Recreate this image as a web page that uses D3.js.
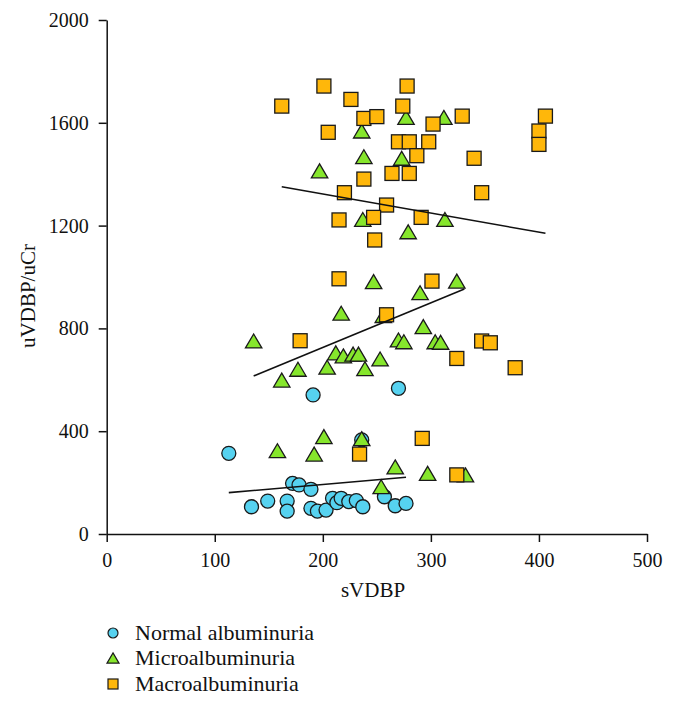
<!DOCTYPE html>
<html>
<head>
<meta charset="utf-8">
<script src="https://cdn.jsdelivr.net/npm/d3@7"></script>
<style>
  html, body { margin: 0; padding: 0; background: #fff; }
  svg { display: block; }
  text { font-family: "Liberation Serif", "Times New Roman", serif; fill: #111; }
</style>
</head>
<body>
<svg id="chart" width="676" height="704"></svg>
<script>
// ---------- data (sVDBP, uVDBP/uCr) ----------
const normalX = [113, 134, 149, 167, 167, 172, 178, 189, 189, 195, 203, 209, 213, 217, 224, 231, 237, 236, 257, 267, 277, 191, 270];
const normalY = [314, 106, 128, 128, 89, 197, 191, 174, 100, 89, 93, 139, 122, 139, 126, 130, 106, 366, 145, 110, 119, 541, 567];

const microX = [236, 238, 197, 237, 247, 277, 312, 273, 313, 279, 324, 290,
                217, 136, 212, 219, 228, 233, 253, 177, 204, 239, 162, 270, 275, 293, 304, 309, 256,
                201, 236, 158, 192, 267, 254, 297, 332];
const microY = [1568, 1468, 1413, 1224, 982, 1621, 1621, 1462, 1224, 1176, 984, 939,
                859, 751, 705, 693, 700, 700, 681, 641, 649, 643, 599, 755, 748, 807, 748, 746, 850,
                379, 371, 324, 311, 261, 184, 236, 230];

const macroX = [201, 226, 162, 238, 250, 205, 264, 238, 220, 259, 247, 215, 248, 215,
                278, 274, 302, 329, 406, 400, 400, 270, 280, 298, 287, 340, 280, 347, 291, 301,
                259, 179, 234, 347, 355, 324, 378, 292, 324];
const macroY = [1743, 1691, 1665, 1617, 1624, 1563, 1403, 1381, 1328, 1280, 1232, 1222, 1144, 993,
                1743, 1665, 1595, 1626, 1626, 1568, 1516, 1526, 1526, 1526, 1472, 1462, 1403, 1328, 1232, 984,
                853, 752, 311, 751, 744, 683, 647, 372, 230];

// regression line end points: [x1, y1, x2, y2]
const fitNormal = [113, 161, 277, 221];
const fitMicro  = [136, 615, 331, 953];
const fitMacro  = [162, 1351, 406, 1170];

const xTicks = [0, 100, 200, 300, 400, 500];
const yTicks = [0, 400, 800, 1200, 1600, 2000];
const seriesNames = ["Normal albuminuria", "Microalbuminuria", "Macroalbuminuria"];
const xTitle = "sVDBP";
const yTitle = "uVDBP/uCr";

// ---------- drawing ----------
const svg = d3.select("#chart");
const x = d3.scaleLinear().domain([0, 500]).range([106.7, 647]);
const y = d3.scaleLinear().domain([0, 2000]).range([534, 20]);

const colors = { circle: "#56d2f0", tri: "#86e62c", sq: "#ffb70a" };
const strokeCol = "#1a1a1a";
const fmt = d3.format("d");

function triPath(s) { // bbox-centred triangle, width 2s
  const h = s * 1.7;
  return `M0,${-h/2}L${s},${h/2}L${-s},${h/2}Z`;
}

// axes
const yAxis = d3.axisLeft(y).tickValues(yTicks).tickFormat(fmt).tickSize(8).tickSizeOuter(0).tickPadding(10);
const xAxis = d3.axisBottom(x).tickValues(xTicks).tickFormat(fmt).tickSize(8).tickSizeOuter(0).tickPadding(11);

const gy = svg.append("g").attr("transform", `translate(${x(0)},0)`).call(yAxis);
const gx = svg.append("g").attr("transform", `translate(0,${y(0)})`).call(xAxis);
[gx, gy].forEach(g => {
  g.attr("font-family", "Liberation Serif, serif").attr("font-size", 20);
  g.selectAll("path, line").attr("stroke", "#111").attr("stroke-width", 1.5);
  g.selectAll("text").attr("fill", "#111").style("font-family", "Liberation Serif, serif");
});

// points: circles, then triangles, then squares
const gPts = svg.append("g");
gPts.selectAll("circle.n").data(normalX.map((v, i) => [v, normalY[i]]))
  .join("circle").attr("class", "n")
  .attr("cx", d => x(d[0])).attr("cy", d => y(d[1])).attr("r", 7)
  .attr("fill", colors.circle).attr("stroke", strokeCol).attr("stroke-width", 1.3);

gPts.selectAll("path.m").data(microX.map((v, i) => [v, microY[i]]))
  .join("path").attr("class", "m")
  .attr("d", triPath(8.2))
  .attr("transform", d => `translate(${x(d[0])},${y(d[1])})`)
  .attr("fill", colors.tri).attr("stroke", strokeCol).attr("stroke-width", 1.3).attr("stroke-linejoin", "miter");

gPts.selectAll("rect.M").data(macroX.map((v, i) => [v, macroY[i]]))
  .join("rect").attr("class", "M")
  .attr("x", d => x(d[0]) - 7).attr("y", d => y(d[1]) - 7)
  .attr("width", 14).attr("height", 14)
  .attr("fill", colors.sq).attr("stroke", strokeCol).attr("stroke-width", 1.3);

// regression lines
[fitNormal, fitMicro, fitMacro].forEach(f => {
  svg.append("line")
    .attr("x1", x(f[0])).attr("y1", y(f[1]))
    .attr("x2", x(f[2])).attr("y2", y(f[3]))
    .attr("stroke", "#111").attr("stroke-width", 1.6);
});

// axis titles
svg.append("text").attr("x", 373).attr("y", 597).attr("text-anchor", "middle")
  .style("font-size", "21px").text(xTitle);
svg.append("text").attr("transform", "translate(35,296) rotate(-90)").attr("text-anchor", "middle")
  .style("font-size", "21px").text(yTitle);

// legend
const legend = svg.append("g");
const ly = [633, 658, 684];
legend.append("circle").attr("cx", 113).attr("cy", ly[0]).attr("r", 5)
  .attr("fill", colors.circle).attr("stroke", strokeCol).attr("stroke-width", 1.2);
legend.append("path").attr("d", triPath(6)).attr("transform", `translate(113,${ly[1]})`)
  .attr("fill", colors.tri).attr("stroke", strokeCol).attr("stroke-width", 1.2);
legend.append("rect").attr("x", 108).attr("y", ly[2] - 5).attr("width", 10).attr("height", 10)
  .attr("fill", colors.sq).attr("stroke", strokeCol).attr("stroke-width", 1.2);
seriesNames.forEach((n, i) => {
  legend.append("text").attr("x", 135).attr("y", ly[i]).attr("dy", "0.33em")
    .style("font-size", "22px").text(n);
});
</script>
</body>
</html>
